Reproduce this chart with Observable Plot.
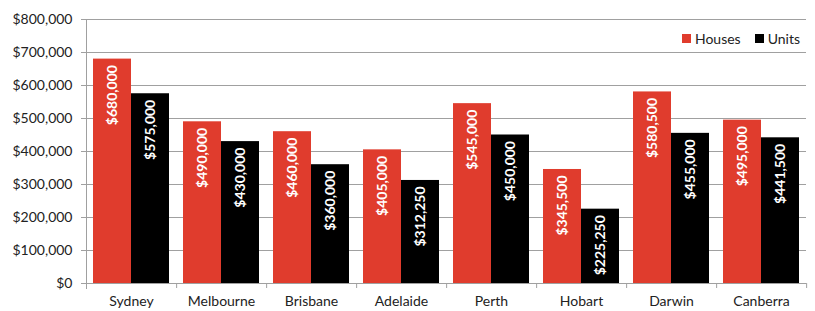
<!DOCTYPE html>
<html>
<head>
<meta charset="utf-8">
<script src="https://cdn.jsdelivr.net/npm/d3@7"></script>
<script src="https://cdn.jsdelivr.net/npm/@observablehq/plot@0.6"></script>
<style>
  html, body { margin: 0; padding: 0; background: #fff; }
  #wrap { position: relative; width: 815px; height: 311px; font-family: Lato, "Open Sans", sans-serif; }
  #legend { position: absolute; top: 30px; right: 15px; display: flex; gap: 14px; font-size: 14px; color: #222; }
  #legend span { display: inline-flex; align-items: center; }
  #legend i { display: inline-block; width: 9px; height: 9px; margin-right: 4px; }
</style>
</head>
<body>
<div id="wrap"></div>
<script>
const cities = ["Sydney", "Melbourne", "Brisbane", "Adelaide", "Perth", "Hobart", "Darwin", "Canberra"];
const houses = [680000, 490000, 460000, 405000, 545000, 345500, 580500, 495000];
const units = [575000, 430000, 360000, 312250, 450000, 225250, 455000, 441500];
const seriesNames = ["Houses", "Units"];
const seriesColors = ["#E03C2D", "#000000"];
const yTicks = [0, 100000, 200000, 300000, 400000, 500000, 600000, 700000, 800000];

const data = cities.flatMap((c, i) => [
  {city: c, series: "Houses", value: houses[i]},
  {city: c, series: "Units", value: units[i]}
]);

const fmt = d => "$" + d3.format(",")(d);
const W = 815, ML = 85, MR = 8;
const halfBand = (W - ML - MR) / cities.length / 2;

const chart = Plot.plot({
  width: W,
  height: 311,
  marginLeft: ML,
  marginRight: MR,
  marginTop: 19,
  marginBottom: 28,
  style: {fontFamily: "Lato, 'Open Sans', sans-serif", fontSize: "14px", color: "#222", background: "white"},
  fx: {domain: cities, padding: 0, label: null},
  x: {domain: seriesNames, paddingInner: 0, paddingOuter: 0.157, axis: null},
  y: {domain: [0, 800000], label: null},
  color: {domain: seriesNames, range: seriesColors},
  marks: [
    Plot.gridY(yTicks, {stroke: "#a0a0a0", strokeOpacity: 1}),
    Plot.axisY(yTicks, {tickSize: 5, tickPadding: 9, tickFormat: fmt, label: null, stroke: "#a0a0a0"}),
    Plot.frame({anchor: "left", facetAnchor: "left", stroke: "#a0a0a0", insetBottom: -5}),
    Plot.axisFx({anchor: "bottom", tickSize: 0, tickPadding: 13, label: null}),
    Plot.axisFx({anchor: "bottom", tickSize: 5, tickFormat: () => "", dx: halfBand, label: null, stroke: "#a0a0a0"}),
    Plot.barY(data, {fx: "city", x: "series", y: "value", fill: "series"}),
    Plot.text(data, {
      fx: "city", x: "series", y: "value", text: d => fmt(d.value),
      rotate: -90, textAnchor: "end", dy: 6, fill: "white", fontWeight: "bold", fontSize: 14
    })
  ]
});

const wrap = document.getElementById("wrap");
wrap.appendChild(chart);
const legend = document.createElement("div");
legend.id = "legend";
seriesNames.forEach((s, i) => {
  const span = document.createElement("span");
  const sw = document.createElement("i");
  sw.style.background = seriesColors[i];
  span.appendChild(sw);
  span.appendChild(document.createTextNode(s));
  legend.appendChild(span);
});
wrap.appendChild(legend);
</script>
</body>
</html>
